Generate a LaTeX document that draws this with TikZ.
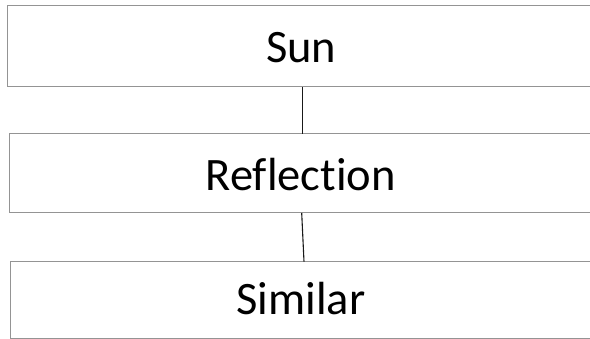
\documentclass[tikz,border=0pt]{standalone}
\usepackage{fontspec}
\setmainfont[Ligatures={NoCommon,NoRare,NoDiscretionary,NoHistoric}]{Carlito}
\begin{document}
\begin{tikzpicture}[x=1pt,y=-1pt,
  boxst/.style={draw=black!42,line width=1pt},
  lbl/.style={font=\fontsize{46.5}{56}\selectfont,inner sep=0pt,anchor=base},
  conn/.style={draw=black!90,line width=1.1pt}]
\useasboundingbox (0,0) rectangle (590,339);
\draw[boxst] (7.5,5.5) rectangle (593,87);
\draw[boxst] (9,133.7) rectangle (593,213);
\draw[boxst] (10.5,261.7) rectangle (593,338.5);
\node[lbl] (sun) at (301.3,62.7) {Sun};
\node[lbl] (refl) at (300.7,191) {Reflection};
\node[lbl] (sim) at (300.8,315) {Similar};
\coordinate (a1) at (302.3,87);
\coordinate (a2) at (302.3,133.7);
\coordinate (b1) at (301.7,213);
\coordinate (b2) at (304,261.7);
\draw[conn] (a1) -- (a2);
\draw[conn] (b1) -- (b2);
\end{tikzpicture}
\end{document}
